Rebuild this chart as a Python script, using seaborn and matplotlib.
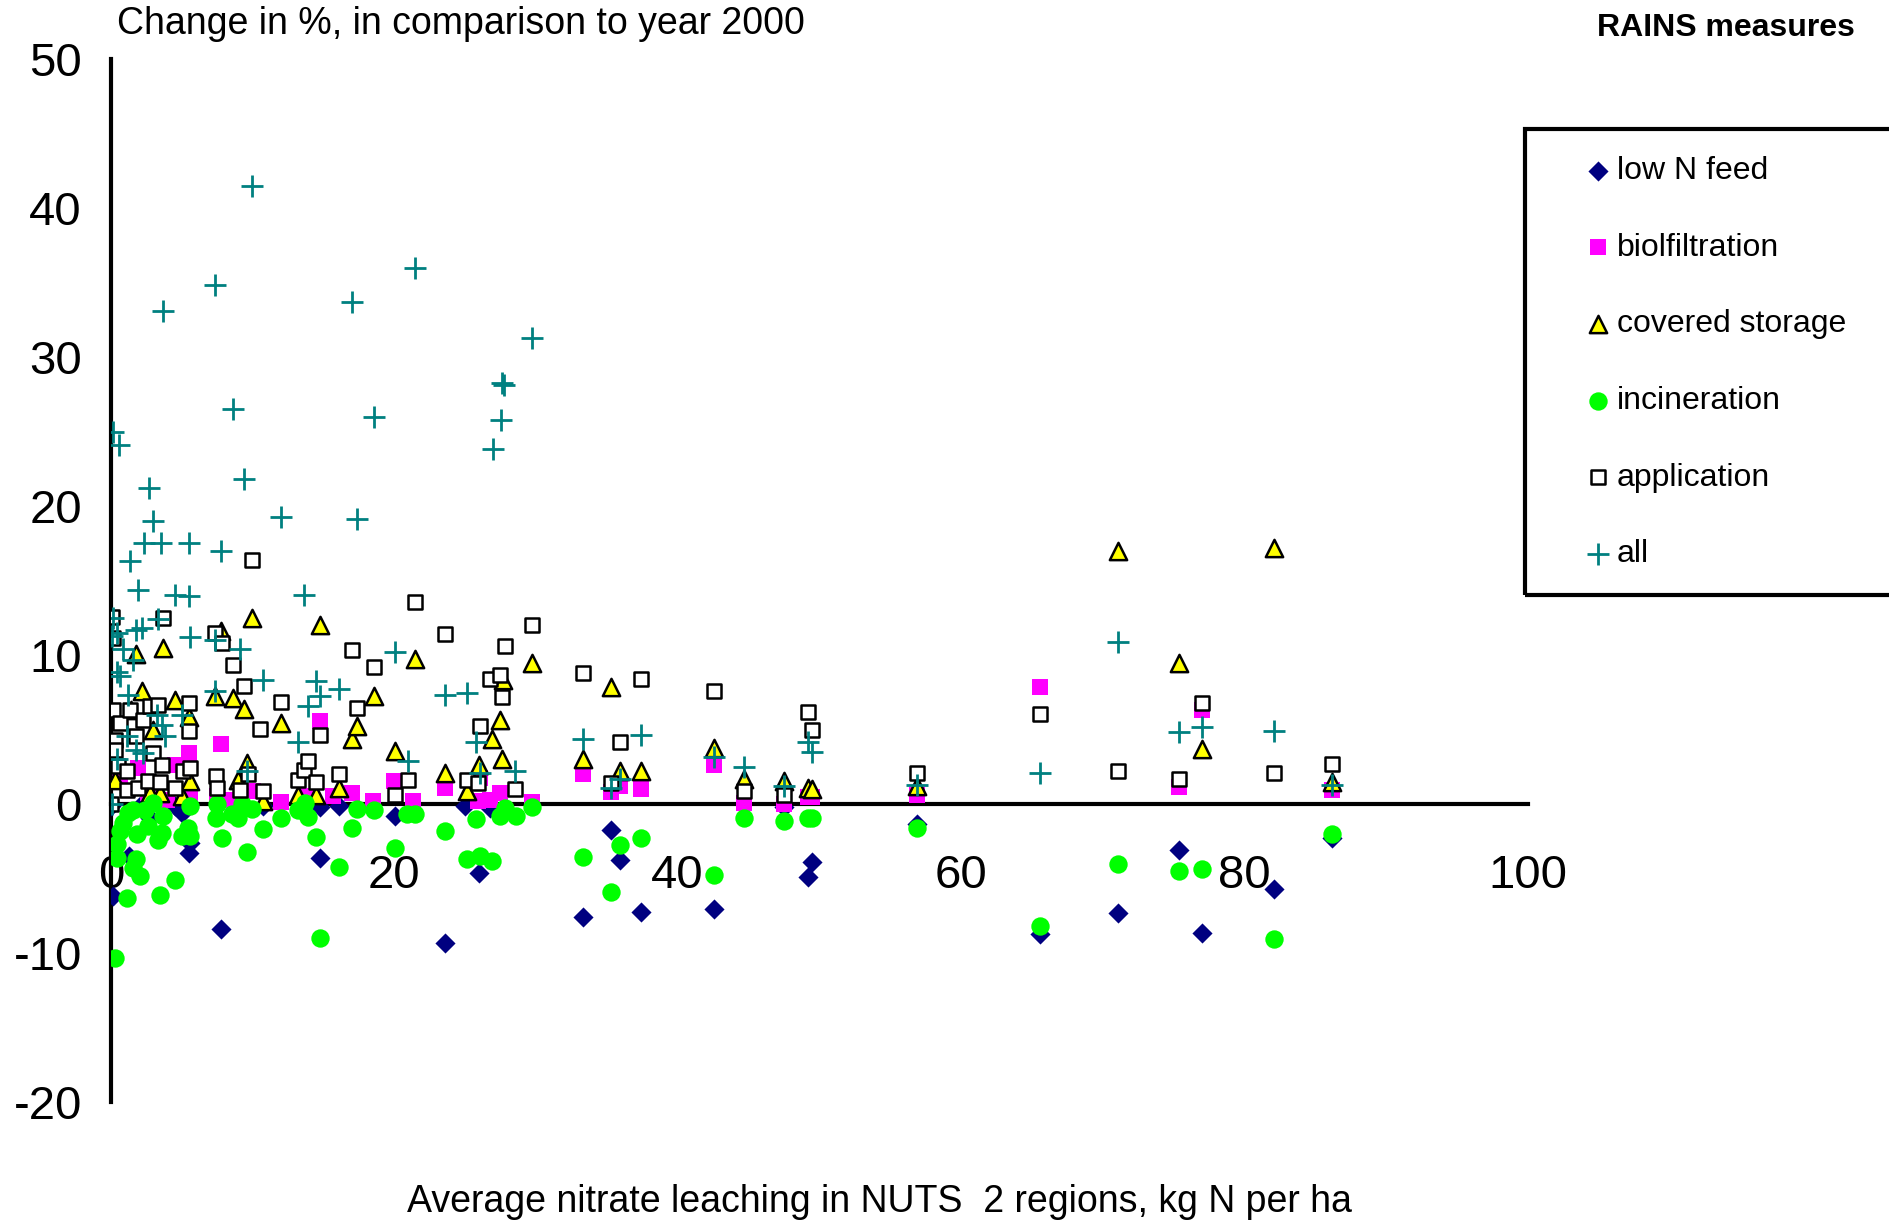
import matplotlib
matplotlib.use("Agg")
import matplotlib.pyplot as plt
import seaborn as sns
from matplotlib.patches import Rectangle

# ---- data ----
lown_x = [0.0, 0.16, 1.3, 2.05, 2.75, 4.52, 4.99, 5.5, 5.58, 7.8, 10.75, 14.75, 14.75, 16.1, 20.05,
          23.6, 24.98, 26.0, 26.75, 35.3, 35.9, 33.3, 37.4, 42.6, 47.5, 49.2, 49.5, 56.9, 65.6,
          71.1, 75.4, 77.0, 82.1, 86.2]
lown_y = [-0.13, -6.17, -3.5, -0.13, -0.92, -0.13, -0.58, -3.3, -2.6, -8.4, -0.09, -3.6, -0.2,
          -0.09, -0.8, -9.3, -0.09, -4.6, -0.25, -1.7, -3.75, -7.6, -7.2, -7.0, -0.2, -4.9, -3.9,
          -1.35, -8.7, -7.3, -3.07, -8.65, -5.7, -2.26]

bio_x = [0.64, 1.93, 2.64, 3.93, 4.52, 5.5, 5.58, 7.46, 7.76, 8.4, 10.05, 12.0, 13.9, 14.75, 15.7,
         16.99, 18.5, 20.0, 21.3, 23.6, 25.9, 26.05, 26.75, 27.46, 29.7, 33.3, 35.3, 35.9, 37.4,
         42.6, 44.7, 47.5, 49.2, 49.5, 56.9, 65.6, 75.4, 77.0, 86.2]
bio_y = [1.65, 2.44, 0.76, 0.31, 2.66, 3.44, 0.42, 0.54, 4.07, 0.31, 0.87, 0.13, 0.54, 5.57, 0.54,
         0.76, 0.2, 1.54, 0.2, 1.1, 0.2, 1.77, 0.31, 0.76, 0.13, 2.0, 0.8, 1.2, 1.05,
         2.66, 0.05, 0.0, 0.5, 0.45, 0.65, 7.85, 1.13, 6.3, 0.97]

cov_x = [0.28, 1.39, 1.8, 2.16, 2.75, 2.99, 3.46, 3.65, 4.52, 4.99, 5.5, 5.58, 7.34, 7.8, 8.6, 8.99,
         9.4, 9.58, 9.98, 10.75, 12.0, 13.2, 14.5, 14.75, 16.1, 17.03, 17.4, 18.6, 20.05, 21.46,
         23.6, 25.1, 26.0, 26.9, 27.46, 27.6, 27.7, 29.7, 33.3, 35.3, 35.9, 37.4, 42.6, 44.7, 47.5,
         49.2, 49.5, 56.9, 71.1, 75.4, 77.0, 82.1, 86.2]
cov_y = [1.65, 6.35, 10.1, 7.58, 0.76, 5.0, 0.76, 10.5, 6.98, 0.54, 5.86, 1.54, 7.24, 11.6, 7.13, 1.65,
         6.39, 2.77, 12.5, 0.2, 5.45, 0.65, 0.65, 12.05, 1.1, 4.38, 5.23, 7.29, 3.55, 9.75,
         2.1, 0.87, 2.66, 4.38, 5.68, 3.04, 8.36, 9.48, 3.06, 7.84, 2.2, 2.2, 3.8, 1.7, 1.55,
         1.1, 1.0, 1.2, 17.0, 9.46, 3.7, 17.2, 1.5]

inc_x = [0.28, 0.4, 0.4, 0.64, 0.87, 1.15, 1.22, 1.58, 1.58, 1.8, 1.86, 2.04, 2.4, 2.64, 2.99, 3.34,
         3.46, 3.58, 3.7, 4.52, 4.99, 5.46, 5.58, 5.58, 7.41, 7.5, 7.81, 8.52, 8.99, 9.22, 9.6, 9.98,
         10.7, 12.0, 13.2, 13.7, 13.93, 14.45, 14.75, 16.1, 17.03, 17.4, 18.6, 20.05, 20.87, 21.46,
         23.6, 25.1, 25.8, 26.05, 26.9, 27.46, 27.8, 28.56, 29.7, 33.3, 35.3, 35.9, 37.4, 42.6,
         44.7, 47.5, 49.2, 49.5, 56.9, 65.6, 71.1, 75.4, 77.0, 82.1, 86.2]
inc_y = [-10.3, -3.6, -2.7, -1.81, -1.25, -6.28, -0.58, -4.27, -0.36, -3.7, -2.03, -4.83, -0.36, -1.48,
         0.09, -2.37, -6.06, -1.92, -0.8, -5.1, -2.15, -1.59, -2.15, -0.13, -0.92, 0.04, -2.26,
         -0.69, -0.92, -0.02, -3.22, -0.31, -1.65, -0.92, -0.36, 0.09, -0.85, -2.21, -9.0, -4.2,
         -1.63, -0.31, -0.36, -2.93, -0.69, -0.69, -1.81, -3.71, -0.98, -3.49, -3.82, -0.8, -0.25,
         -0.76, -0.2, -3.56, -5.9, -2.75, -2.26, -4.77, -0.94, -1.1, -0.9, -0.94, -1.6, -8.2, -4.0,
         -4.45, -4.37, -9.05, -2.0]

app_x = [0.0, 0.1, 0.12, 0.16, 0.28, 0.28, 0.52, 0.64, 1.1, 1.1, 1.34, 1.8, 1.93, 2.28, 2.64, 2.75,
         2.99, 3.34, 3.46, 3.58, 3.7, 4.52, 5.1, 5.5, 5.5, 5.58, 7.34, 7.4, 7.5, 7.86, 8.6, 9.1, 9.4,
         9.7, 9.97, 10.5, 10.7, 12.0, 13.2, 13.6, 13.9, 14.5, 14.75, 16.1, 17.0, 17.4, 18.6, 20.05,
         21.0, 21.46, 23.6, 25.1, 25.9, 26.05, 26.75, 27.46, 27.6, 27.8, 28.5, 29.7, 33.3, 35.3,
         35.9, 37.4, 42.6, 44.7, 47.5, 49.2, 49.5, 56.9, 65.6, 71.1, 75.4, 77.0, 82.1, 86.2]
app_y = [0.0, 12.56, 11.15, 6.35, 4.34, 3.67, 2.55, 5.45, 2.2, 0.98, 6.35, 4.56, 1.1, 5.68, 1.54, 6.57,
         3.44, 6.68, 1.48, 2.66, 12.5, 1.1, 2.2, 6.8, 4.9, 2.44, 11.5, 1.92, 1.1, 10.8, 9.37, 0.98, 7.9,
         2.0, 16.4, 5.05, 0.87, 6.84, 1.65, 2.28, 2.88, 1.5, 4.67, 2.0, 10.37, 6.46, 9.2, 0.65,
         1.6, 13.6, 11.4, 1.65, 1.4, 5.23, 8.43, 8.7, 7.2, 10.6, 1.03, 12.05, 8.8, 1.39,
         4.2, 8.4, 7.6, 0.9, 0.65, 6.2, 5.0, 2.1, 6.06, 2.26, 1.7, 6.8, 2.1, 2.67]

all_x = [0.05, 0.05, 0.16, 0.17, 0.4, 0.4, 0.4, 0.59, 0.64, 0.87, 1.1, 1.22, 1.34, 1.58, 1.8, 1.8, 1.93,
         2.16, 2.28, 2.33, 2.68, 2.99, 3.22, 3.34, 3.53, 3.58, 3.65, 3.8, 4.52, 4.99, 5.48, 5.51,
         5.58, 7.34, 7.34, 7.36, 7.76, 8.6, 9.1, 9.41, 9.58, 9.97, 10.75, 12.02, 13.2, 13.64, 13.93,
         14.45, 14.75, 16.1, 17.03, 17.4, 18.6, 20.05, 21.0, 21.45, 23.6, 25.1, 25.8, 26.05, 26.95,
         27.5, 27.57, 27.76, 28.5, 29.7, 33.3, 35.3, 35.9, 37.4, 42.6, 44.7, 47.5, 49.2, 49.5,
         56.9, 65.6, 71.1, 75.4, 77.0, 82.1, 86.2]
all_y = [0.0, 11.27, 12.5, 25.0, 11.5, 8.9, 3.0, 24.1, 8.6, 10.4, 4.56, 7.36, 16.3, 9.7, 11.7, 3.67, 14.4,
         11.8, 3.44, 17.5, 21.2, 19.0, 6.0, 12.4, 17.5, 5.34, 33.1, 4.56, 14.06, 6.0, 17.5, 13.95,
         11.2, 11.0, 7.58, 34.85, 16.97, 26.54, 10.4, 21.85, 2.2, 41.5, 8.36, 19.27, 4.16, 14.06, 6.57,
         8.25, 7.24, 7.74, 33.7, 19.14, 26.0, 10.2, 2.88, 36.0, 7.36, 7.47, 4.2, 2.1, 23.8,
         25.76, 28.26, 28.1, 2.2, 31.3, 4.4, 1.1, 1.7, 4.65, 3.2, 2.5, 1.25, 4.2, 3.5,
         1.3, 2.1, 10.9, 4.85, 5.2, 4.9, 1.3]

x_ticks = [0, 20, 40, 60, 80, 100]
y_ticks = [-20, -10, 0, 10, 20, 30, 40, 50]

sns.set_style("white")
plt.rcParams['font.family'] = ['Liberation Sans', 'DejaVu Sans']
plt.rcParams['axes.unicode_minus'] = False
plt.rcParams['text.color'] = 'black'
plt.rcParams['xtick.color'] = 'black'
plt.rcParams['ytick.color'] = 'black'
plt.rcParams['axes.edgecolor'] = 'black'

fig = plt.figure(figsize=(18.89, 12.24), dpi=100)
ax = fig.add_axes([0.05876, 0.09944, 0.74993, 0.85237])

sns.scatterplot(x=lown_x, y=lown_y, marker='D', s=105, color='#000080', edgecolor='#000080',
                linewidth=0, label='low N feed', ax=ax)
sns.scatterplot(x=bio_x, y=bio_y, marker='s', s=130, color='#FF00FF', edgecolor='#FF00FF',
                linewidth=0, label='biolfiltration', ax=ax)
sns.scatterplot(x=cov_x, y=cov_y, marker='^', s=155, color='#FFFF00', edgecolor='black',
                linewidth=1.8, label='covered storage', ax=ax)
sns.scatterplot(x=inc_x, y=inc_y, marker='o', s=175, color='#00FF00', edgecolor='#00FF00',
                linewidth=0, label='incineration', ax=ax)
sns.scatterplot(x=app_x, y=app_y, marker='s', s=115, color='white', edgecolor='black',
                linewidth=1.8, label='application', ax=ax)
sns.scatterplot(x=all_x, y=all_y, marker='+', s=260, color='#008080',
                linewidth=2.0, label='all', ax=ax)

ax.set_xlim(0, 100)
ax.set_ylim(-20, 50)
ax.set_xticks(x_ticks)
ax.set_yticks(y_ticks)
ax.set_xlabel('')
ax.set_ylabel('')

for side in ['top', 'right']:
    ax.spines[side].set_visible(False)
ax.spines['left'].set_linewidth(3)
ax.spines['bottom'].set_linewidth(3)
ax.spines['bottom'].set_position(('data', 0))
ax.spines['left'].set_zorder(0.5)
ax.spines['bottom'].set_zorder(0.5)
ax.tick_params(axis='both', direction='out', length=11, width=3, labelsize=34,
               color='black', labelcolor='black')
ax.tick_params(axis='x', pad=25)
ax.tick_params(axis='y', pad=10)
ax.grid(False)

fig.text(117 / 1889, 1 - 24 / 1224, 'Change in %, in comparison to year 2000', fontsize=27,
         ha='left', va='center', color='black')
fig.text(1855 / 1889, 1 - 28 / 1224, 'RAINS measures', fontsize=23, fontweight='bold',
         ha='right', va='center', color='black')
fig.text(879 / 1889, 1 - 1202 / 1224, 'Average nitrate leaching in NUTS  2 regions, kg N per ha',
         fontsize=27, ha='center', va='center', color='black')

# legend frame runs off the right edge
fig.add_artist(Rectangle((1525 / 1889, 1 - 595 / 1224), 0.3, (595 - 129) / 1224,
                         transform=fig.transFigure, facecolor='none', edgecolor='black',
                         linewidth=3, clip_on=False))
leg = ax.legend(loc='upper left', bbox_to_anchor=(1584 / 1889, 1 - 156 / 1224),
                bbox_transform=fig.transFigure, frameon=False, fontsize=23, markerscale=1.0,
                handlelength=0.9, handletextpad=0.12, labelspacing=1.46, borderpad=0,
                borderaxespad=0)
for t in leg.get_texts():
    t.set_color('black')

fig.savefig('out.png', dpi=100)
